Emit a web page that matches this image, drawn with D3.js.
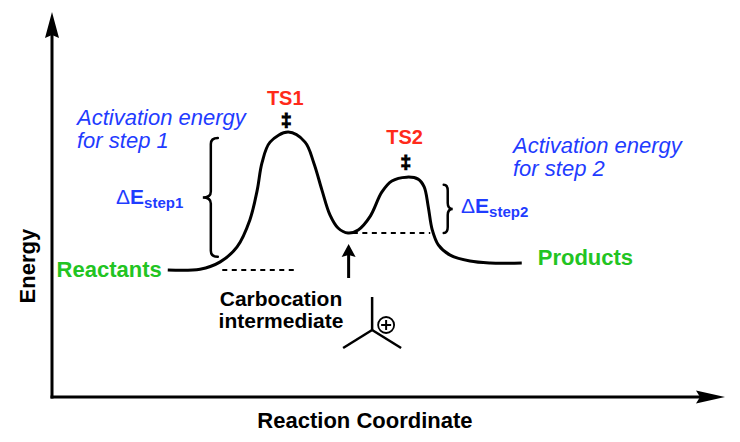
<!DOCTYPE html>
<html><head><meta charset="utf-8">
<script src="https://cdn.jsdelivr.net/npm/d3@7"></script>
<style>html,body{margin:0;padding:0;background:#fff}svg{display:block}</style>
</head><body>
<svg id="c" width="740" height="442"></svg>
<script>
// ---- data (reaction coordinate 0..100, energy 0..100) ----
const stageNames = ["Reactants", "TS1", "Intermediate", "TS2", "Products"];
const stageX = [17.2, 35.1, 44.0, 52.7, 69.8];
const stageE = [33.0, 68.8, 42.6, 57.1, 34.8];
const profileX = [17.2, 22.0, 25.0, 27.5, 29.4, 30.5, 31.2, 32.4, 35.1, 37.6, 38.9, 40.1, 41.3, 42.5, 44.0, 45.5, 47.3, 49.0, 50.5, 52.7, 54.4, 55.3, 55.9, 56.5, 57.4, 59.1, 62.1, 65.1, 69.8];
const profileE = [33.0, 33.2, 35.1, 39.0, 46.0, 53.8, 60.8, 66.2, 68.8, 66.2, 60.8, 53.8, 47.3, 43.9, 42.6, 43.4, 47.0, 53.2, 56.1, 57.1, 56.6, 54.6, 49.5, 43.4, 39.5, 36.9, 35.3, 34.8, 34.8];
const dashStartX = [25.3, 44.7];
const dashEndX = [36.4, 56.2];
const dashE = [33.0, 42.6];
const braceX = [23.6, 58.8];
const braceLowE = [36.4, 42.6];
const braceHighE = [67.3, 55.1];
const axisTitles = ["Reaction Coordinate", "Energy"];
const activationLines1 = ["Activation energy", "for step 1"];
const activationLines2 = ["Activation energy", "for step 2"];
const intermediateLines = ["Carbocation", "intermediate"];

const RED = "#ff2a1a", BLUE = "#1f3cff", GREEN = "#22c422";
const FONT = "'Liberation Sans', Arial, Helvetica, sans-serif";

const svg = d3.select("#c");
const x = d3.scaleLinear().domain([0, 100]).range([52, 725]);
const y = d3.scaleLinear().domain([0, 100]).range([397, 12]);

// ---- axes ----
const ax = svg.append("g").attr("stroke", "#000").attr("fill", "#000");
ax.append("line").attr("x1", x(0)).attr("x2", x(0)).attr("y1", y(0) + 1.5).attr("y2", y(100) + 20)
  .attr("stroke-width", 3);
ax.append("line").attr("x1", x(0) - 1.5).attr("x2", x(100) - 22).attr("y1", y(0)).attr("y2", y(0))
  .attr("stroke-width", 3);
ax.append("path").attr("stroke", "none")
  .attr("d", `M${x(0)},${y(100)} L${x(0) + 7},${y(100) + 26} L${x(0)},${y(100) + 23} L${x(0) - 7},${y(100) + 26} Z`);
ax.append("path").attr("stroke", "none")
  .attr("d", `M${x(100)},${y(0)} L${x(100) - 29},${y(0) - 6.5} L${x(100) - 25},${y(0)} L${x(100) - 29},${y(0) + 6.5} Z`);

svg.append("text").text(axisTitles[0]).attr("x", x(46.5)).attr("y", 428)
  .attr("text-anchor", "middle").attr("font-family", FONT).attr("font-weight", "bold").attr("font-size", 22);
svg.append("text").text(axisTitles[1]).attr("transform", `translate(35,${y(34)}) rotate(-90)`)
  .attr("text-anchor", "middle").attr("font-family", FONT).attr("font-weight", "bold").attr("font-size", 22);

// ---- energy profile ----
const pts = profileX.map((v, i) => [v, profileE[i]]);
const line = d3.line().x(d => x(d[0])).y(d => y(d[1])).curve(d3.curveCatmullRom.alpha(0.5));
svg.append("path").datum(pts).attr("d", line).attr("fill", "none").attr("stroke", "#000")
  .attr("stroke-width", 3).attr("stroke-linejoin", "round");

// dashed reference levels
svg.selectAll("line.dash").data(dashE).enter().append("line").attr("class", "dash")
  .attr("x1", (d, i) => x(dashStartX[i])).attr("x2", (d, i) => x(dashEndX[i]))
  .attr("y1", d => y(d)).attr("y2", d => y(d))
  .attr("stroke", "#000").attr("stroke-width", 2).attr("stroke-dasharray", "5,4.5");

// braces
function bracePath(xs, y0, y1, dir, hook, depth) {
  const ym = (y0 + y1) / 2, r = 6, h = -dir * hook, d = dir * depth;
  return `M${xs + h},${y0} Q${xs},${y0} ${xs},${y0 + r} L${xs},${ym - r} Q${xs},${ym} ${xs + d},${ym} ` +
    `Q${xs},${ym} ${xs},${ym + r} L${xs},${y1 - r} Q${xs},${y1} ${xs + h},${y1}`;
}
const braceDir = [-1, 1], braceHook = [7, 4], braceDepth = [8, 5];
svg.selectAll("path.brace").data(braceX).enter().append("path").attr("class", "brace")
  .attr("d", (d, i) => bracePath(x(d), y(braceHighE[i]), y(braceLowE[i]), braceDir[i], braceHook[i], braceDepth[i]))
  .attr("fill", "none").attr("stroke", "#000").attr("stroke-width", 2.5).attr("stroke-linecap", "round");

// ---- labels ----
function txt(s, px, py, opts) {
  const t = svg.append("text").text(s).attr("x", px).attr("y", py).attr("font-family", FONT);
  Object.entries(opts || {}).forEach(([k, v]) => t.attr(k, v));
  return t;
}
// TS labels and double daggers
const tsIdx = [1, 3];
const tsLabelOff = [27, 33], tsDagOff = [6, 9], tsDx = [-2, -1];
tsIdx.forEach((si, k) => {
  const px = x(stageX[si]) + tsDx[k], py = y(stageE[si]);
  txt(stageNames[si], px - 1, py - tsLabelOff[k], { "text-anchor": "middle", "font-weight": "bold", "font-size": 20, fill: RED });
  txt("\u2021", px, py - tsDagOff[k], { "text-anchor": "middle", "font-weight": "bold", "font-size": 19,
    fill: "#000", stroke: "#000", "stroke-width": 1.1 });
});
// Reactants / Products
txt(stageNames[0], x(stageX[0]) - 6, y(stageE[0]) + 7, { "text-anchor": "end", "font-weight": "bold", "font-size": 22, fill: GREEN });
txt(stageNames[4], x(stageX[4]) + 16, y(stageE[4]) + 2, { "font-weight": "bold", "font-size": 22, fill: GREEN });

// activation energy notes
activationLines1.forEach((s, i) => txt(s, 77, 125 + i * 23, { "font-style": "italic", "font-size": 22, fill: BLUE }));
activationLines2.forEach((s, i) => txt(s, 513, 153 + i * 23, { "font-style": "italic", "font-size": 22, fill: BLUE }));

// Delta E labels
function deltaE(px, py, sub) {
  const t = svg.append("text").attr("x", px).attr("y", py).attr("font-family", FONT).attr("fill", BLUE);
  t.append("tspan").text("\u0394").attr("font-size", 21);
  t.append("tspan").text("E").attr("font-weight", "bold").attr("font-size", 21);
  t.append("tspan").text(sub).attr("font-weight", "bold").attr("font-size", 15).attr("dy", 4);
}
deltaE(116, 204, "step1");
deltaE(461, 213, "step2");

// intermediate arrow
const ix = x(stageX[2]) + 0.5, iy = y(stageE[2]);
svg.append("line").attr("x1", ix).attr("x2", ix).attr("y1", iy + 45).attr("y2", iy + 20)
  .attr("stroke", "#000").attr("stroke-width", 3);
svg.append("path").attr("d", `M${ix},${iy + 11} L${ix + 7},${iy + 24} L${ix},${iy + 22} L${ix - 7},${iy + 24} Z`).attr("fill", "#000");

intermediateLines.forEach((s, i) => txt(s, 281, 306 + i * 22, { "text-anchor": "middle", "font-weight": "bold", "font-size": 21, fill: "#000" }));

// carbocation structure
const cx = x(stageX[2]) + 24, cy = iy + 97;
const mol = svg.append("g").attr("stroke", "#000").attr("stroke-width", 2.5).attr("fill", "none");
mol.append("line").attr("x1", cx).attr("y1", cy).attr("x2", cx).attr("y2", cy - 33);
mol.append("line").attr("x1", cx).attr("y1", cy).attr("x2", cx - 29).attr("y2", cy + 18);
mol.append("line").attr("x1", cx).attr("y1", cy).attr("x2", cx + 29).attr("y2", cy + 18);
mol.append("circle").attr("cx", cx + 14).attr("cy", cy - 5).attr("r", 8).attr("stroke-width", 1.8);
mol.append("line").attr("x1", cx + 9).attr("x2", cx + 19).attr("y1", cy - 5).attr("y2", cy - 5).attr("stroke-width", 2);
mol.append("line").attr("x1", cx + 14).attr("x2", cx + 14).attr("y1", cy - 10).attr("y2", cy).attr("stroke-width", 2);
</script>
</body></html>
